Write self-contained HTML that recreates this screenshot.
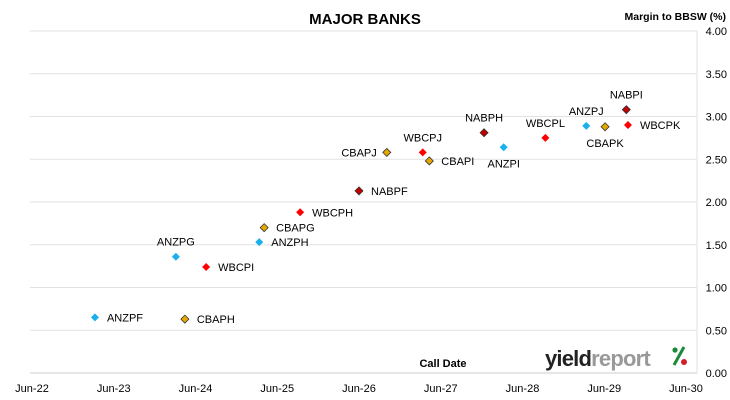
<!DOCTYPE html>
<html><head><meta charset="utf-8"><style>
body{margin:0;background:#fff;}
svg{display:block;font-family:"Liberation Sans",sans-serif;}
</style></head><body>
<svg id="chart" width="730" height="400">
<text x="365" y="24" text-anchor="middle" font-size="15" font-weight="bold">MAJOR BANKS</text>
<text x="726" y="20" text-anchor="end" font-size="10.5" font-weight="bold">Margin to BBSW (%)</text>
<text x="443" y="367" text-anchor="middle" font-size="11" font-weight="bold">Call Date</text>
<g>
<text x="545" y="366" font-size="22" font-weight="bold" letter-spacing="-0.8"><tspan fill="#222">yield</tspan><tspan fill="#999">report</tspan></text>
<line x1="674" y1="365" x2="684" y2="347" stroke="#1a8a3a" stroke-width="3"/>
<circle cx="675" cy="350" r="2.6" fill="#1a8a3a"/>
<circle cx="684" cy="362" r="3" fill="#d0202a"/>
</g>
<g id="grid"></g><g id="ticks"></g><g id="marks"></g>
</svg>
<script>
const names=["ANZPF","CBAPH","ANZPG","WBCPI","CBAPG","ANZPH","WBCPH","NABPF","CBAPJ","WBCPJ","CBAPI","NABPH","ANZPI","WBCPL","ANZPJ","CBAPK","NABPI","WBCPK"];
const callDates=[2023.27,2024.37,2024.26,2024.63,2025.34,2025.28,2025.78,2026.50,2026.84,2027.28,2027.36,2028.03,2028.27,2028.78,2029.28,2029.51,2029.77,2029.79];
const margins=[0.65,0.63,1.36,1.24,1.70,1.53,1.88,2.13,2.58,2.58,2.48,2.81,2.64,2.75,2.89,2.88,3.08,2.90];
const banks=["ANZ","CBA","ANZ","WBC","CBA","ANZ","WBC","NAB","CBA","WBC","CBA","NAB","ANZ","WBC","ANZ","CBA","NAB","WBC"];
const xTicks=["Jun-22","Jun-23","Jun-24","Jun-25","Jun-26","Jun-27","Jun-28","Jun-29","Jun-30"];
const yTicks=[0,0.5,1,1.5,2,2.5,3,3.5,4];
const labelPos=["r","r","t","r","r","r","r","r","l","t","r","t","b","t","t","b","t","r"];
const NS="http://www.w3.org/2000/svg";
const x=v=>32+(v-2022.5)*81.75;
const y=v=>373-v*85.5;
const fill={ANZ:"#1ab0ec",CBA:"#e6a800",WBC:"#ff0000",NAB:"#c00000"};
const stroke={ANZ:"none",CBA:"#333",WBC:"none",NAB:"#333"};
function mk(t,a,p){const e=document.createElementNS(NS,t);for(const k in a)e.setAttribute(k,a[k]);p.appendChild(e);return e;}
const grid=document.getElementById("grid"),ticks=document.getElementById("ticks"),marks=document.getElementById("marks");
yTicks.forEach((v,i)=>{
 const l=mk("line",{x1:30,x2:697,y1:y(v),y2:y(v),stroke:v===0?"#ccc":"#e2e2e2","stroke-width":1},grid);
 
 
 const t=mk("text",{x:727,y:y(v)+4,"text-anchor":"end","font-size":11},ticks);
 t.textContent=v.toFixed(2);
 
 
});
const vl=mk("line",{x1:697,x2:697,y1:y(4),y2:y(0),stroke:"#e2e2e2"},grid);


xTicks.forEach((s,i)=>{
 const t=mk("text",{x:x(2022.5+i),y:392,"text-anchor":"middle","font-size":11},ticks);
 t.textContent=s;
 
 
});
names.forEach((n,i)=>{
 const px=x(callDates[i]),py=y(margins[i]),b=banks[i];
 const d=mk("path",{d:`M${px},${py-4}L${px+4},${py}L${px},${py+4}L${px-4},${py}Z`,fill:fill[b],stroke:stroke[b],"stroke-width":0.8},marks);
 
 
 const p=labelPos[i];
 let lx=px,ly=py+4,anc="middle";
 if(p==="r"){lx=px+12;anc="start";}
 if(p==="l"){lx=px-10;anc="end";}
 if(p==="t"){ly=py-11;}
 if(p==="b"){ly=py+20;}
 const t=mk("text",{x:lx,y:ly,"text-anchor":anc,"font-size":11},marks);
 t.textContent=n;
 
 
});
</script>
</body></html>
